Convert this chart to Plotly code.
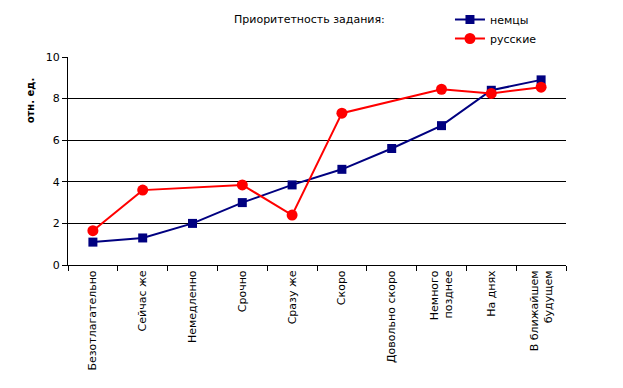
import plotly.graph_objects as go

categories = ["Безотлагательно", "Сейчас же", "Немедленно", "Срочно", "Сразу же",
              "Скоро", "Довольно скоро", "Немного<br>позднее", "На днях",
              "В ближайшем<br>будущем"]
germans = [1.1, 1.3, 2.0, 3.0, 3.85, 4.6, 5.6, 6.7, 8.4, 8.9]
russians = [1.65, 3.6, None, 3.85, 2.4, 7.3, None, 8.45, 8.25, 8.55]
y_ticks = [0, 2, 4, 6, 8, 10]

FONT = "DejaVu Sans, Liberation Sans, Arial, sans-serif"

fig = go.Figure()
fig.add_trace(go.Scatter(x=categories, y=germans, name="немцы", mode="lines+markers",
                         line=dict(color="#000080", width=2),
                         marker=dict(symbol="square", size=9, color="#000080")))
fig.add_trace(go.Scatter(x=categories, y=russians, name="русские", mode="lines+markers",
                         connectgaps=True,
                         line=dict(color="#FF0000", width=2),
                         marker=dict(symbol="circle", size=11, color="#FF0000")))

fig.update_layout(
    width=623, height=388,
    margin=dict(l=60, r=65, t=49, b=131, autoexpand=False),
    paper_bgcolor="white", plot_bgcolor="white",
    font=dict(family=FONT, size=11, color="black"),
    showlegend=True,
    legend=dict(x=0.767, y=1.25, xanchor="left", yanchor="top",
                bgcolor="rgba(0,0,0,0)", font=dict(size=11),
                itemwidth=30, tracegroupgap=0),
    xaxis=dict(type="category", tickangle=-90, showgrid=False, automargin=False,
               showline=True, linecolor="black", linewidth=1,
               ticks="outside", ticklen=5, tickcolor="black",
               tickson="boundaries", tickfont=dict(size=11),
               range=[-0.5, 9.5]),
    yaxis=dict(range=[0, 10], tickvals=y_ticks, showgrid=True, gridcolor="black",
               automargin=False,
               gridwidth=1, showline=True, linecolor="black", linewidth=1,
               ticks="outside", ticklen=5, tickcolor="black", zeroline=False,
               tickfont=dict(size=11)),
    annotations=[
        dict(text="Приоритетность задания:", xref="paper", yref="paper",
             x=0.484, y=1.178, showarrow=False, font=dict(size=11),
             xanchor="center", yanchor="middle"),
        dict(text="<b>отн. ед.</b>", xref="paper", yref="paper",
             x=-0.06, y=0.79, textangle=-90, showarrow=False,
             font=dict(size=10), xanchor="right", yanchor="middle"),
    ],
)

fig.write_html("out.html")
